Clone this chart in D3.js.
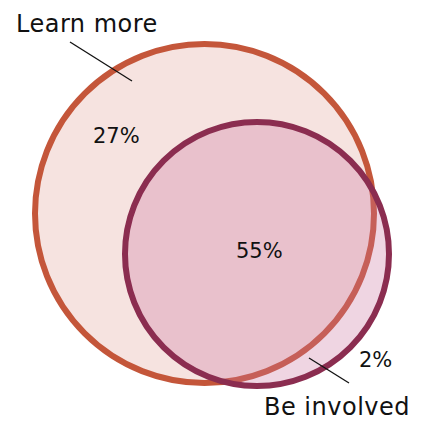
<!DOCTYPE html>
<html>
<head>
<meta charset="utf-8">
<script src="https://cdn.jsdelivr.net/npm/d3@7"></script>
<style>
  body { margin: 0; background: #fff; }
  text { font-family: "DejaVu Sans", sans-serif; fill: #111; }
</style>
</head>
<body>
<svg id="chart"></svg>
<script>
// set names and region shares
const setNames = ["Learn more", "Be involved"];
const regionKeys = ["learnOnly", "both", "involvedOnly"];
const regionValues = [27, 55, 2];

// layout (pixels)
const width = 425, height = 421;
const circles = [
  {cx: 204.5, cy: 213.5, r: 169.5, stroke: "#c4563a", fill: "#f6e3e0", opacity: 1},
  {cx: 257, cy: 254, r: 132, stroke: "#8b2d50", fill: "rgb(202,115,158)", opacity: 0.3}
];
const regionPos = [[93, 143], [236, 258], [359, 367]];
const namePos = [[16, 32], [264, 415]];
const leaders = [[[70, 42], [132, 81]], [[309, 358], [349, 383]]];

const svg = d3.select("#chart")
    .attr("width", width)
    .attr("height", height);

// circles: fill then stroke, so the second fill tints the first outline
circles.forEach(function(c) {
  svg.append("circle")
    .attr("cx", c.cx).attr("cy", c.cy).attr("r", c.r)
    .attr("fill", c.fill)
    .attr("fill-opacity", c.opacity);
  svg.append("circle")
    .attr("cx", c.cx).attr("cy", c.cy).attr("r", c.r)
    .attr("fill", "none")
    .attr("stroke", c.stroke)
    .attr("stroke-width", 6);
});

// leader lines
svg.selectAll("line.leader")
  .data(leaders)
  .join("line")
    .attr("class", "leader")
    .attr("x1", d => d[0][0]).attr("y1", d => d[0][1])
    .attr("x2", d => d[1][0]).attr("y2", d => d[1][1])
    .attr("stroke", "#111")
    .attr("stroke-width", 1.3);

// set labels
svg.selectAll("text.name")
  .data(setNames)
  .join("text")
    .attr("class", "name")
    .attr("x", (d, i) => namePos[i][0])
    .attr("y", (d, i) => namePos[i][1])
    .style("font-size", "24px")
    .style("letter-spacing", "0.5px")
    .text(d => d);

// region values
svg.selectAll("text.value")
  .data(regionValues)
  .join("text")
    .attr("class", "value")
    .attr("x", (d, i) => regionPos[i][0])
    .attr("y", (d, i) => regionPos[i][1])
    .style("font-size", "21px")
    .text(d => d + "%");
</script>
</body>
</html>
